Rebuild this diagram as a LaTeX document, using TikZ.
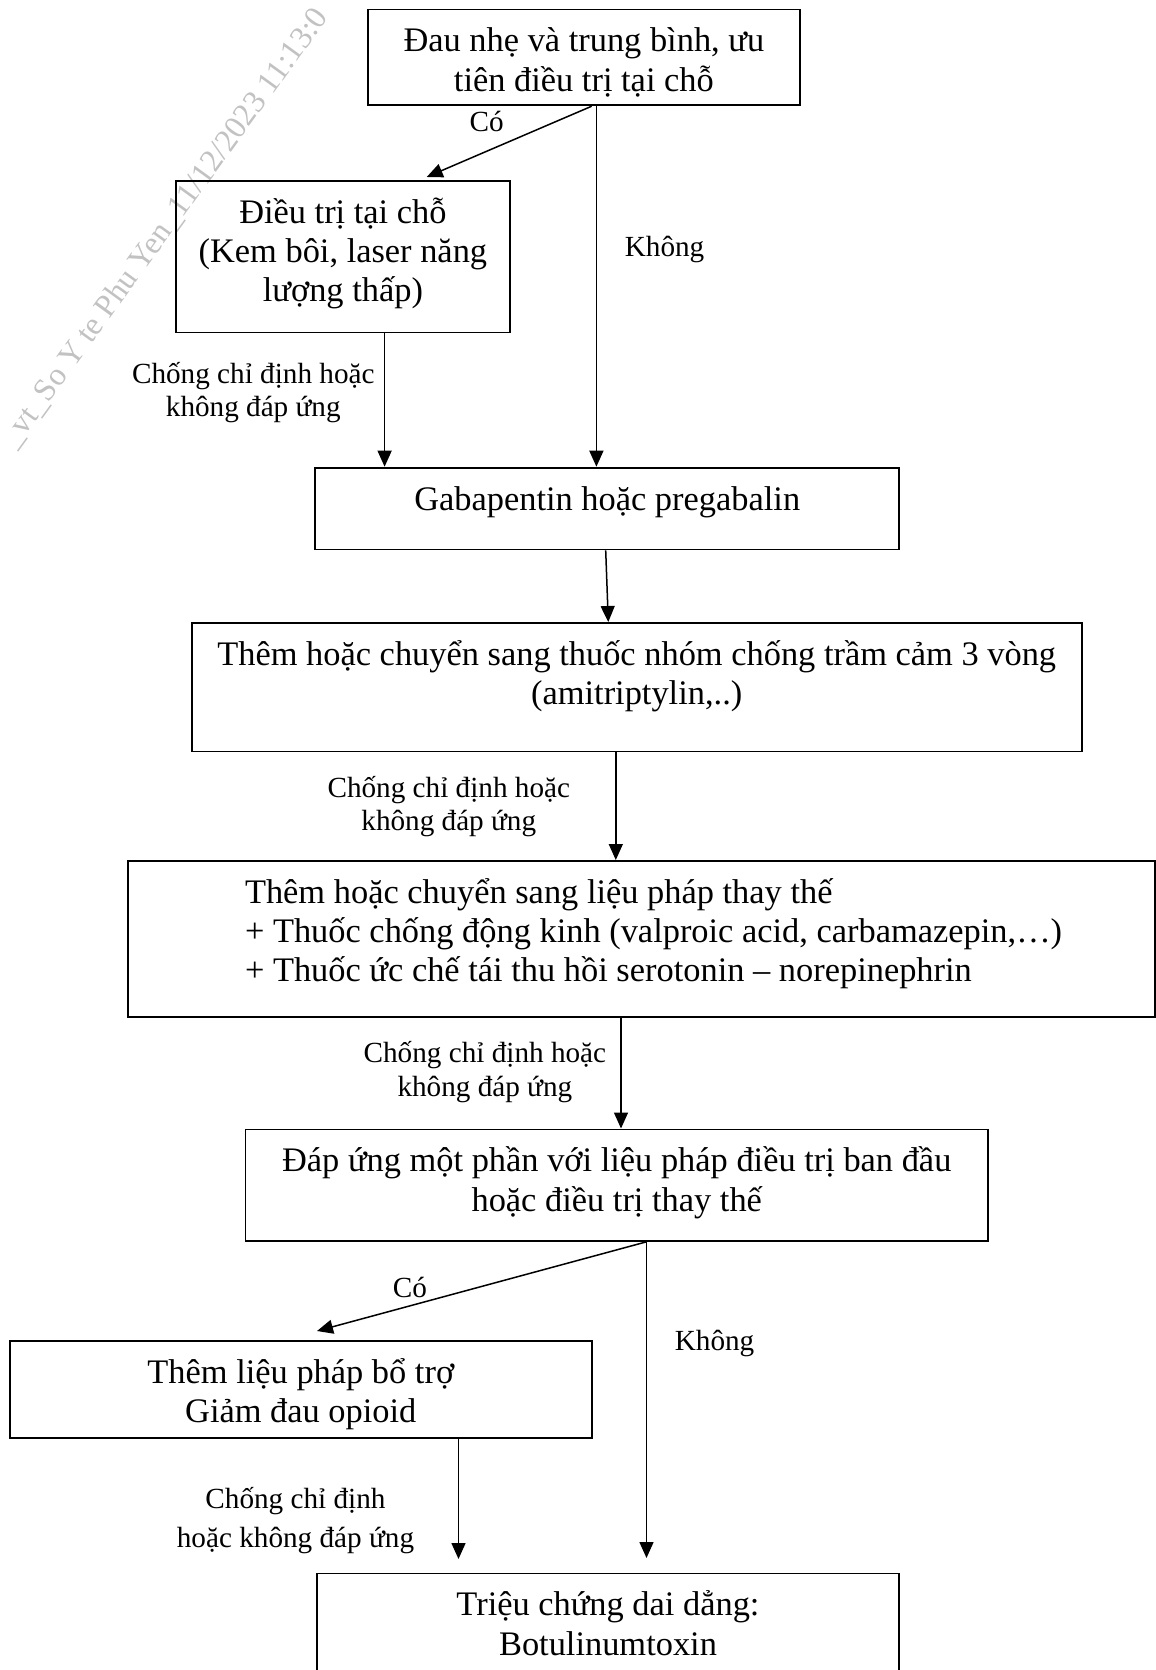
\documentclass[tikz,border=0pt]{standalone}
\usepackage{fontspec}
\setmainfont{Liberation Serif}
\usetikzlibrary{arrows.meta,positioning}

\newcommand\chuto{\fontsize{17.2pt}{19.6pt}\selectfont\lineskiplimit=-30pt\relax}
\newcommand\chunho{\fontsize{14.6pt}{16.7pt}\selectfont\lineskiplimit=-30pt\relax}

\tikzset{
  hop/.style={draw, line width=0.9pt, rectangle, anchor=north, inner sep=0pt,
    align=center, text height=21.25pt, font=\chuto},
  hai/.style={text height=40.85pt},
  ba/.style={text height=60.45pt},
  nhan/.style={anchor=base, inner sep=0pt, align=center, font=\chunho},
  mui/.style={-{Triangle[length=8pt,width=7pt]}, line width=0.75pt},
}

\begin{document}
\begin{tikzpicture}[x=0.5pt,y=-0.5pt]
    \useasboundingbox (0,0) rectangle (1156,1670);
    \clip (0,0) rectangle (1156,1670);

    % dau chim
    \node[rotate=54, text=black!24, font=\fontsize{16pt}{18pt}\selectfont] (dau) at (165,228)
        {\_vt\_So Y te Phu Yen\_11/12/2023 11:13:0};

    % cac hop
    \node[hop, hai, minimum width=216.25pt, text depth=7.1pt] (b1) at (583.9,8.5)
        {Đau nhẹ và trung bình, ưu\\tiên điều trị tại chỗ};
    \node[hop, ba, minimum width=166.9pt, text depth=15.3pt] (b2) at (342.9,180)
        {Điều trị tại chỗ\\(Kem bôi, laser năng\\lượng thấp)};
    \node[hop, minimum width=292.15pt, text depth=19.7pt] (b3) at (607.2,466.7)
        {Gabapentin hoặc pregabalin};
    \node[hop, hai, minimum width=444.95pt, text depth=23.4pt] (b4) at (636.7,622)
        {Thêm hoặc chuyển sang thuốc nhóm chống trầm cảm 3 vòng\\(amitriptylin,..)};
    \node[hop, ba, minimum width=513.5pt, text depth=17.55pt, align=left] (b5) at (641.5,860)
        {\hspace*{12pt}Thêm hoặc chuyển sang liệu pháp thay thế\\
         \hspace*{12pt}+ Thuốc chống động kinh (valproic acid, carbamazepin,…)\\
         \hspace*{12pt}+ Thuốc ức chế tái thu hồi serotonin – norepinephrin};
    \node[hop, hai, minimum width=371.25pt, text depth=14.9pt] (b6) at (616.75,1128.5)
        {Đáp ứng một phần với liệu pháp điều trị ban đầu\\hoặc điều trị thay thế};
    \node[hop, hai, minimum width=291.2pt, text depth=7.65pt] (b7) at (300.8,1340)
        {Thêm liệu pháp bổ trợ\\Giảm đau opioid};
    \node[hop, hai, minimum width=291.3pt, text depth=17.9pt] (b8) at (608,1572.5)
        {Triệu chứng dai dẳng:\\Botulinumtoxin};

    % diem dat mui ten
    \coordinate (x1) at (591.7,0);
    \coordinate (x2) at (596.4,0);
    \coordinate (x3) at (384.6,0);
    \coordinate (x4) at (605.7,0);
    \coordinate (x4b) at (608.3,0);
    \coordinate (x5) at (615.8,0);
    \coordinate (x6) at (621,0);
    \coordinate (x7) at (646.5,0);
    \coordinate (x9) at (458.5,0);
    \coordinate (t1) at (426.7,177);
    \coordinate (t7) at (317,1331);
    \coordinate (t8) at (646.5,1558);
    \coordinate (t9) at (458.5,1559);

    \draw[mui] (x1 |- b1.south) -- (t1);
    \draw[mui] (x2 |- b1.south) -- (x2 |- b3.north);
    \draw[mui] (x3 |- b2.south) -- (x3 |- b3.north);
    \draw[mui] (x4 |- b3.south) -- (x4b |- b4.north);
    \draw[mui] (x5 |- b4.south) -- (x5 |- b5.north);
    \draw[mui] (x6 |- b5.south) -- (x6 |- b6.north);
    \draw[mui] (x7 |- b6.south) -- (t7);
    \draw[mui] (x7 |- b6.south) -- (t8);
    \draw[mui] (x9 |- b7.south) -- (t9);

    % nhan
    \node[nhan] (co1) at (486.6,131.7) {Có};
    \node[nhan] (khong1) at (664.6,256.7) {Không};
    \node[nhan] (ccd1) at (253.3,416.7) {Chống chỉ định hoặc\\không đáp ứng};
    \node[nhan] (ccd2) at (448.8,830.7) {Chống chỉ định hoặc\\không đáp ứng};
    \node[nhan] (ccd3) at (484.9,1096) {Chống chỉ định hoặc\\không đáp ứng};
    \node[nhan] (co2) at (410,1297) {Có};
    \node[nhan] (khong2) at (714.6,1350.4) {Không};
    \node[nhan, font=\fontsize{14.6pt}{19.25pt}\selectfont] (ccd4) at (295.5,1547)
        {Chống chỉ định\\hoặc không đáp ứng};
\end{tikzpicture}
\end{document}
